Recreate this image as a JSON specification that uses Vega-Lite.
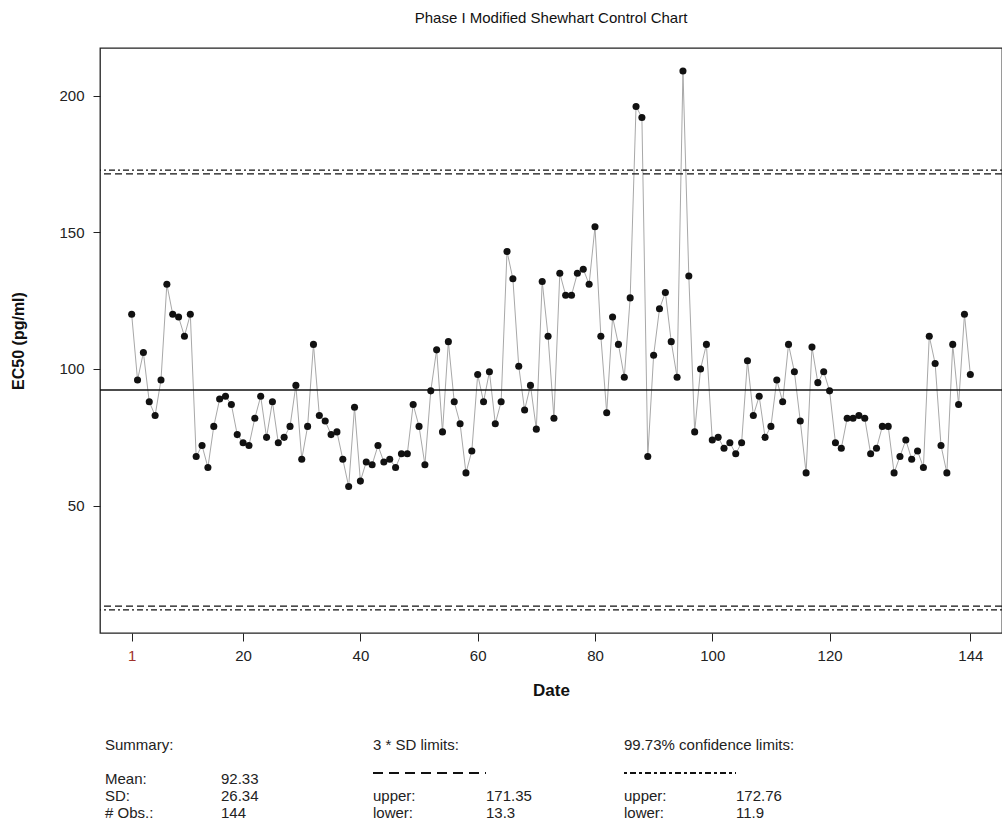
{
  "$schema": "https://vega.github.io/schema/vega-lite/v6.json",
  "background": "white",
  "padding": {"left": 10, "top": 10, "right": 0, "bottom": 0},
  "config": {"font": "Liberation Sans", "concat": {"spacing": 20}},
  "spacing": 20,
  "resolve": {"scale": {"x": "independent", "y": "independent", "strokeDash": "independent"}},
  "datasets": {
    "ec50": [
      {"Date":1,"EC50":120},{"Date":2,"EC50":96},{"Date":3,"EC50":106},{"Date":4,"EC50":88},{"Date":5,"EC50":83},{"Date":6,"EC50":96},{"Date":7,"EC50":131},{"Date":8,"EC50":120},{"Date":9,"EC50":119},{"Date":10,"EC50":112},{"Date":11,"EC50":120},{"Date":12,"EC50":68},{"Date":13,"EC50":72},{"Date":14,"EC50":64},{"Date":15,"EC50":79},{"Date":16,"EC50":89},{"Date":17,"EC50":90},{"Date":18,"EC50":87},{"Date":19,"EC50":76},{"Date":20,"EC50":73},{"Date":21,"EC50":72},{"Date":22,"EC50":82},{"Date":23,"EC50":90},{"Date":24,"EC50":75},
      {"Date":25,"EC50":88},{"Date":26,"EC50":73},{"Date":27,"EC50":75},{"Date":28,"EC50":79},{"Date":29,"EC50":94},{"Date":30,"EC50":67},{"Date":31,"EC50":79},{"Date":32,"EC50":109},{"Date":33,"EC50":83},{"Date":34,"EC50":81},{"Date":35,"EC50":76},{"Date":36,"EC50":77},{"Date":37,"EC50":67},{"Date":38,"EC50":57},{"Date":39,"EC50":86},{"Date":40,"EC50":59},{"Date":41,"EC50":66},{"Date":42,"EC50":65},{"Date":43,"EC50":72},{"Date":44,"EC50":66},{"Date":45,"EC50":67},{"Date":46,"EC50":64},{"Date":47,"EC50":69},{"Date":48,"EC50":69},
      {"Date":49,"EC50":87},{"Date":50,"EC50":79},{"Date":51,"EC50":65},{"Date":52,"EC50":92},{"Date":53,"EC50":107},{"Date":54,"EC50":77},{"Date":55,"EC50":110},{"Date":56,"EC50":88},{"Date":57,"EC50":80},{"Date":58,"EC50":62},{"Date":59,"EC50":70},{"Date":60,"EC50":98},{"Date":61,"EC50":88},{"Date":62,"EC50":99},{"Date":63,"EC50":80},{"Date":64,"EC50":88},{"Date":65,"EC50":143},{"Date":66,"EC50":133},{"Date":67,"EC50":101},{"Date":68,"EC50":85},{"Date":69,"EC50":94},{"Date":70,"EC50":78},{"Date":71,"EC50":132},{"Date":72,"EC50":112},
      {"Date":73,"EC50":82},{"Date":74,"EC50":135},{"Date":75,"EC50":127},{"Date":76,"EC50":127},{"Date":77,"EC50":135},{"Date":78,"EC50":136.5},{"Date":79,"EC50":131},{"Date":80,"EC50":152},{"Date":81,"EC50":112},{"Date":82,"EC50":84},{"Date":83,"EC50":119},{"Date":84,"EC50":109},{"Date":85,"EC50":97},{"Date":86,"EC50":126},{"Date":87,"EC50":196},{"Date":88,"EC50":192},{"Date":89,"EC50":68},{"Date":90,"EC50":105},{"Date":91,"EC50":122},{"Date":92,"EC50":128},{"Date":93,"EC50":110},{"Date":94,"EC50":97},{"Date":95,"EC50":209},{"Date":96,"EC50":134},
      {"Date":97,"EC50":77},{"Date":98,"EC50":100},{"Date":99,"EC50":109},{"Date":100,"EC50":74},{"Date":101,"EC50":75},{"Date":102,"EC50":71},{"Date":103,"EC50":73},{"Date":104,"EC50":69},{"Date":105,"EC50":73},{"Date":106,"EC50":103},{"Date":107,"EC50":83},{"Date":108,"EC50":90},{"Date":109,"EC50":75},{"Date":110,"EC50":79},{"Date":111,"EC50":96},{"Date":112,"EC50":88},{"Date":113,"EC50":109},{"Date":114,"EC50":99},{"Date":115,"EC50":81},{"Date":116,"EC50":62},{"Date":117,"EC50":108},{"Date":118,"EC50":95},{"Date":119,"EC50":99},{"Date":120,"EC50":92},
      {"Date":121,"EC50":73},{"Date":122,"EC50":71},{"Date":123,"EC50":82},{"Date":124,"EC50":82},{"Date":125,"EC50":83},{"Date":126,"EC50":82},{"Date":127,"EC50":69},{"Date":128,"EC50":71},{"Date":129,"EC50":79},{"Date":130,"EC50":79},{"Date":131,"EC50":62},{"Date":132,"EC50":68},{"Date":133,"EC50":74},{"Date":134,"EC50":67},{"Date":135,"EC50":70},{"Date":136,"EC50":64},{"Date":137,"EC50":112},{"Date":138,"EC50":102},{"Date":139,"EC50":72},{"Date":140,"EC50":62},{"Date":141,"EC50":109},{"Date":142,"EC50":87},{"Date":143,"EC50":120},{"Date":144,"EC50":98}
    ],
    "limits": [
      {"kind": "sd", "bound": "upper", "value": 171.35},
      {"kind": "sd", "bound": "lower", "value": 13.3},
      {"kind": "conf", "bound": "upper", "value": 172.76},
      {"kind": "conf", "bound": "lower", "value": 11.9}
    ],
    "center": [{"stat": "mean", "value": 92.33}],
    "summary": [
      {"text": "Summary:", "col": 0, "row": 0},
      {"text": "Mean:", "col": 0, "row": 2},
      {"text": "SD:", "col": 0, "row": 3},
      {"text": "# Obs.:", "col": 0, "row": 4},
      {"text": "92.33", "col": 1, "row": 2},
      {"text": "26.34", "col": 1, "row": 3},
      {"text": "144", "col": 1, "row": 4},
      {"text": "3 * SD limits:", "col": 2, "row": 0},
      {"text": "upper:", "col": 2, "row": 3},
      {"text": "lower:", "col": 2, "row": 4},
      {"text": "171.35", "col": 3, "row": 3},
      {"text": "13.3", "col": 3, "row": 4},
      {"text": "99.73% confidence limits:", "col": 4, "row": 0},
      {"text": "upper:", "col": 4, "row": 3},
      {"text": "lower:", "col": 4, "row": 4},
      {"text": "172.76", "col": 5, "row": 3},
      {"text": "11.9", "col": 5, "row": 4}
    ],
    "samples": [
      {"kind": "sd", "start": 2, "end": 3, "row": 1},
      {"kind": "conf", "start": 4, "end": 5, "row": 1}
    ]
  },
  "vconcat": [
    {
      "title": {"text": "Phase I Modified Shewhart Control Chart", "frame": "group", "anchor": "middle", "fontSize": 15, "fontWeight": "normal", "offset": 22, "color": "#111"},
      "width": 902,
      "height": 585,
      "view": {"stroke": "#222", "strokeWidth": 1.3},
      "layer": [
        {
          "data": {"name": "ec50"},
          "mark": {"type": "line", "color": "#a8a8a8", "strokeWidth": 1},
          "encoding": {
            "x": {"field": "Date", "type": "quantitative",
              "scale": {"domain": [-4.4, 149.4], "nice": false, "zero": false},
              "axis": {"values": [1, 20, 40, 60, 80, 100, 120, 144], "title": "Date", "titleFontWeight": "bold", "titleFontSize": 17, "titlePadding": 19, "titleColor": "#111", "labelFontSize": 15, "labelColor": {"condition": {"test": "datum.value === 1", "value": "#a0322a"}, "value": "#222"}, "tickSize": 8, "tickColor": "#222", "labelPadding": 7, "domain": false, "grid": false, "labelFlush": false}},
            "y": {"field": "EC50", "type": "quantitative",
              "scale": {"domain": [3.44, 217.4], "nice": false, "zero": false},
              "axis": {"values": [50, 100, 150, 200], "title": "EC50 (pg/ml)", "titleFontWeight": "bold", "titleFontSize": 16, "titlePadding": 32, "titleColor": "#111", "labelFontSize": 15, "labelColor": "#222", "tickSize": 7, "tickColor": "#222", "labelPadding": 9, "domain": false, "grid": false, "labelAngle": 0}}
          }
        },
        {
          "data": {"name": "ec50"},
          "mark": {"type": "point", "filled": true, "color": "#111", "size": 50, "opacity": 1},
          "encoding": {
            "x": {"field": "Date", "type": "quantitative"},
            "y": {"field": "EC50", "type": "quantitative"}
          }
        },
        {
          "data": {"name": "limits"},
          "mark": {"type": "rule", "color": "#111", "strokeWidth": 1.2},
          "encoding": {
            "y": {"field": "value", "type": "quantitative"},
            "strokeDash": {"field": "kind", "type": "nominal", "scale": {"domain": ["sd", "conf"], "range": [[7, 4], [2, 3, 6, 3]]}, "legend": null}
          }
        },
        {
          "data": {"name": "center"},
          "mark": {"type": "rule", "color": "#111", "strokeWidth": 1.5},
          "encoding": {
            "y": {"field": "value", "type": "quantitative"}
          }
        }
      ]
    },
    {
      "width": 902,
      "height": 101,
      "view": {"stroke": null},
      "layer": [
        {
          "data": {"name": "summary"},
          "mark": {"type": "text", "align": "left", "baseline": "middle", "fontSize": 15, "color": "#222"},
          "encoding": {
            "x": {"field": "col", "type": "quantitative", "scale": {"domain": [0, 1, 2, 3, 4, 5], "range": [5, 121, 273, 386, 524, 636], "zero": false, "nice": false}, "axis": null},
            "y": {"field": "row", "type": "quantitative", "scale": {"domain": [0, 1, 2, 3, 4], "range": [26, 54, 60, 77, 94], "zero": false, "nice": false}, "axis": null},
            "text": {"field": "text"}
          }
        },
        {
          "data": {"name": "samples"},
          "mark": {"type": "rule", "color": "#111", "strokeWidth": 2.2},
          "encoding": {
            "x": {"field": "start", "type": "quantitative"},
            "x2": {"field": "end"},
            "y": {"field": "row", "type": "quantitative"},
            "strokeDash": {"field": "kind", "type": "nominal", "scale": {"domain": ["sd", "conf"], "range": [[10, 6], [3, 3, 6, 3]]}, "legend": null}
          }
        }
      ]
    }
  ]
}
